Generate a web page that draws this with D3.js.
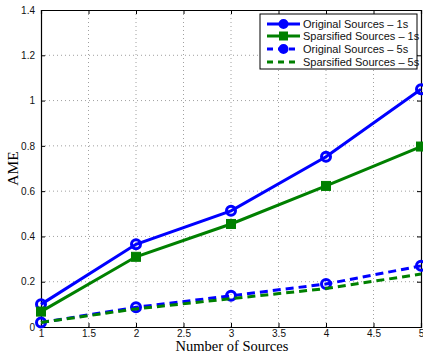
<!DOCTYPE html>
<html>
<head>
<script src="https://d3js.org/d3.v7.min.js"></script>
<style>
    body { margin: 0; background: #fff; }
    text { font-family: "Liberation Sans", Arial, sans-serif; }
</style>
</head>
<body>
<svg id="chart" width="423" height="355"></svg>
<script>
    // datos
    const fuentes = [1, 2, 3, 4, 5];
    const original1s = [0.10, 0.365, 0.513, 0.752, 1.05];
    const sparsified1s = [0.068, 0.31, 0.455, 0.623, 0.797];
    const original5s = [0.02, 0.087, 0.138, 0.19, 0.27];
    const sparsified5s = [0.02, 0.08, 0.125, 0.17, 0.234];
    const xTicks = [1, 1.5, 2, 2.5, 3, 3.5, 4, 4.5, 5];
    const yTicks = [0, 0.2, 0.4, 0.6, 0.8, 1, 1.2, 1.4];

    const series = [
        { name: "Original Sources \u2013 1s", values: original1s, color: "#0000ff", dash: null, marker: "circle" },
        { name: "Sparsified Sources \u2013 1s", values: sparsified1s, color: "#008000", dash: null, marker: "square" },
        { name: "Original Sources \u2013 5s", values: original5s, color: "#0000ff", dash: "8,5", marker: "circle" },
        { name: "Sparsified Sources \u2013 5s", values: sparsified5s, color: "#008000", dash: "8,5", marker: null }
    ];

    const svg = d3.select("#chart");
    const margin = { top: 10, right: 2, bottom: 28, left: 41 };
    const width = +svg.attr("width") - margin.left - margin.right;
    const height = +svg.attr("height") - margin.top - margin.bottom;

    const x = d3.scaleLinear().domain([1, 5]).range([margin.left, margin.left + width]);
    const y = d3.scaleLinear().domain([0, 1.4]).range([margin.top + height, margin.top]);

    // rejilla punteada
    const grid = svg.append("g");
    grid.selectAll(".gx").data(xTicks.slice(1, -1)).enter().append("line")
        .attr("x1", d => x(d)).attr("x2", d => x(d))
        .attr("y1", y(0)).attr("y2", y(1.4))
        .attr("stroke", "#888").attr("stroke-width", 0.8).attr("stroke-dasharray", "1,3");
    grid.selectAll(".gy").data(yTicks.slice(1, -1)).enter().append("line")
        .attr("x1", x(1)).attr("x2", x(5))
        .attr("y1", d => y(d)).attr("y2", d => y(d))
        .attr("stroke", "#888").attr("stroke-width", 0.8).attr("stroke-dasharray", "1,3");

    // ejes
    svg.append("g")
        .attr("transform", `translate(0,${y(0)})`)
        .call(d3.axisBottom(x).tickValues(xTicks).tickSize(-4).tickPadding(3).tickFormat(d3.format("")));
    svg.append("g")
        .attr("transform", `translate(${x(1)},0)`)
        .call(d3.axisLeft(y).tickValues(yTicks).tickSize(-4).tickPadding(6).tickFormat(d => d === 0 ? "0" : d3.format("")(+d.toFixed(1))));
    svg.append("g")
        .attr("transform", `translate(0,${y(1.4)})`)
        .call(d3.axisTop(x).tickValues(xTicks).tickSize(-4).tickFormat(""));
    svg.append("g")
        .attr("transform", `translate(${x(5)},0)`)
        .call(d3.axisRight(y).tickValues(yTicks).tickSize(-4).tickFormat(""));
    svg.selectAll(".domain").attr("stroke", "#000").attr("stroke-width", 1.2);
    svg.selectAll(".tick line").attr("stroke", "#000");
    svg.selectAll(".tick text").attr("font-size", 10).attr("fill", "#111");

    // lineas
    const line = d3.line().x((d, i) => x(fuentes[i])).y(d => y(d));
    series.forEach(s => {
        svg.append("path")
            .datum(s.values)
            .attr("fill", "none")
            .attr("stroke", s.color)
            .attr("stroke-width", 3)
            .attr("stroke-dasharray", s.dash)
            .attr("d", line);
        if (s.marker === "circle") {
            svg.selectAll(null).data(s.values).enter().append("circle")
                .attr("cx", (d, i) => x(fuentes[i])).attr("cy", d => y(d))
                .attr("r", 4.5).attr("fill", "none")
                .attr("stroke", s.color).attr("stroke-width", 3);
        } else if (s.marker === "square") {
            svg.selectAll(null).data(s.values).enter().append("rect")
                .attr("x", (d, i) => x(fuentes[i]) - 4.5).attr("y", d => y(d) - 4.5)
                .attr("width", 9).attr("height", 9)
                .attr("fill", s.color).attr("stroke", s.color).attr("stroke-width", 1);
        }
    });

    // leyenda
    const leyenda = svg.append("g").attr("transform", "translate(260,14)");
    leyenda.append("rect").attr("width", 157).attr("height", 55)
        .attr("fill", "#fff").attr("stroke", "#000").attr("stroke-width", 1);
    const filasY = [10, 22, 35, 48];
    series.forEach((s, i) => {
        const fy = filasY[i];
        leyenda.append("line").attr("x1", 7).attr("x2", 40).attr("y1", fy).attr("y2", fy)
            .attr("stroke", s.color).attr("stroke-width", 3).attr("stroke-dasharray", s.dash ? "6,5" : null);
        if (s.marker === "circle") {
            leyenda.append("circle").attr("cx", 23.5).attr("cy", fy).attr("r", 4)
                .attr("fill", s.color).attr("stroke", s.color).attr("stroke-width", 2);
        } else if (s.marker === "square") {
            leyenda.append("rect").attr("x", 19).attr("y", fy - 4.5).attr("width", 9).attr("height", 9)
                .attr("fill", s.color);
        }
        leyenda.append("text").attr("x", 43).attr("y", fy + 4)
            .attr("font-size", 11).attr("fill", "#111").text(s.name);
    });

    // titulos de ejes
    svg.append("text").attr("x", 232).attr("y", 351).attr("text-anchor", "middle")
        .style("font-family", "'Liberation Serif', 'Times New Roman', serif").attr("font-size", 14.5)
        .text("Number of Sources");
    svg.append("text").attr("transform", `translate(18,${y(0.7)}) rotate(-90)`).attr("text-anchor", "middle")
        .style("font-family", "'Liberation Serif', 'Times New Roman', serif").attr("font-size", 15.5)
        .text("AME");
</script>
</body>
</html>
